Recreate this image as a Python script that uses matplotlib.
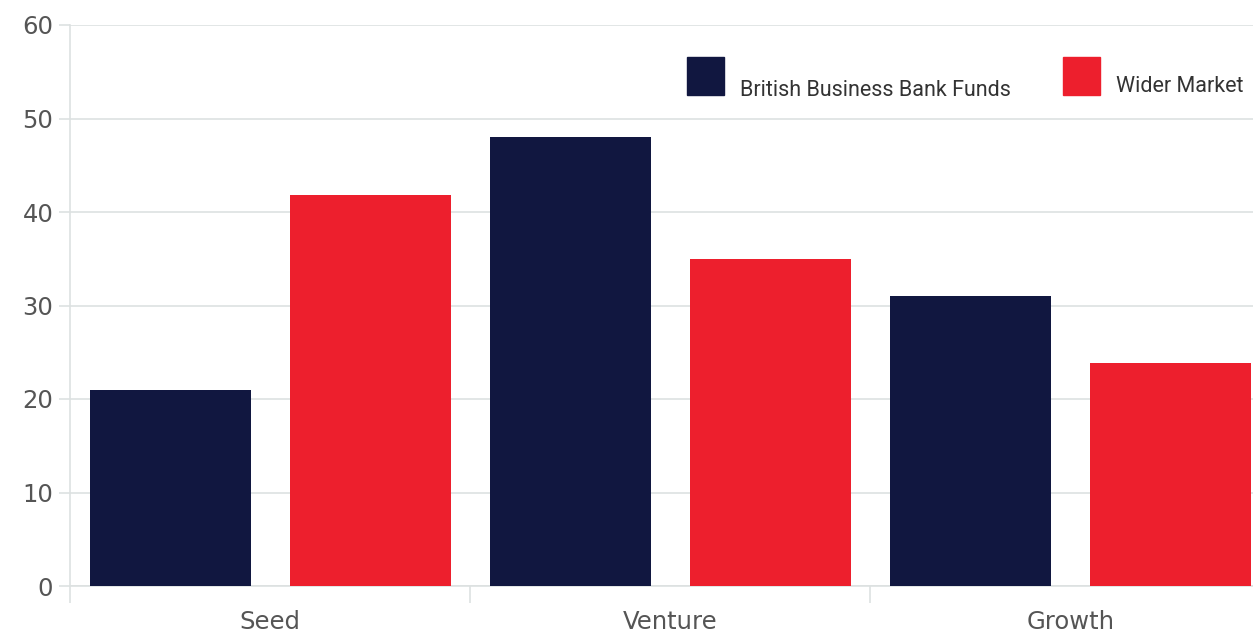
import matplotlib
matplotlib.use("Agg")
import matplotlib.pyplot as plt
from matplotlib.patches import Rectangle

categories = ["Seed", "Venture", "Growth"]
bbb_funds = [21, 48, 31]
wider_market = [41.8, 35, 23.8]
series_names = ["British Business Bank Funds", "Wider Market"]

NAVY = "#111740"
RED = "#ED1F2D"
GRID = "#dde1e1"
W, H = 1253, 632

fig = plt.figure(figsize=(W / 100, H / 100), dpi=100)
ax = fig.add_axes([70 / W, 46 / H, 1183 / W, 561 / H])

x = list(range(len(categories)))
ax.bar([i - 0.25 for i in x], bbb_funds, width=0.4025, color=NAVY, zorder=3)
ax.bar([i + 0.25 for i in x], wider_market, width=0.4025, color=RED, zorder=3)

ax.set_xlim(-0.5, 2.457)
ax.set_ylim(0, 60)
ax.set_yticks(range(0, 61, 10))
ax.grid(axis="y", color=GRID, linewidth=1.2, zorder=0)

# category labels centred, ticks on group boundaries
ax.set_xticks(x)
ax.set_xticklabels(categories, fontsize=17.5, color="#555555")
ax.tick_params(axis="x", which="major", length=0, pad=17.5)
ax.set_xticks([-0.5, 0.5, 1.5], minor=True)
ax.tick_params(axis="x", which="minor", length=12, color=GRID, width=1.2)
ax.tick_params(axis="y", length=8, color=GRID, width=1.2, labelsize=17.5,
               labelcolor="#555555", pad=4)

for s in ["top", "right"]:
    ax.spines[s].set_visible(False)
for s in ["left", "bottom"]:
    ax.spines[s].set_color(GRID)
    ax.spines[s].set_linewidth(1.2)

# legend drawn by hand: square with label sitting at its bottom edge
legend_items = [(series_names[0], NAVY, 687, 96), (series_names[1], RED, 1063, 92)]
for name, col, px, base in legend_items:
    fig.add_artist(Rectangle((px / W, 1 - 95 / H), 37 / W, 38 / H,
                             transform=fig.transFigure, color=col))
    fig.text((px + 53) / W, 1 - base / H, name, fontsize=15.5, family="Roboto",
             color="#333333", va="baseline", ha="left")

fig.savefig("out.png", dpi=100)
